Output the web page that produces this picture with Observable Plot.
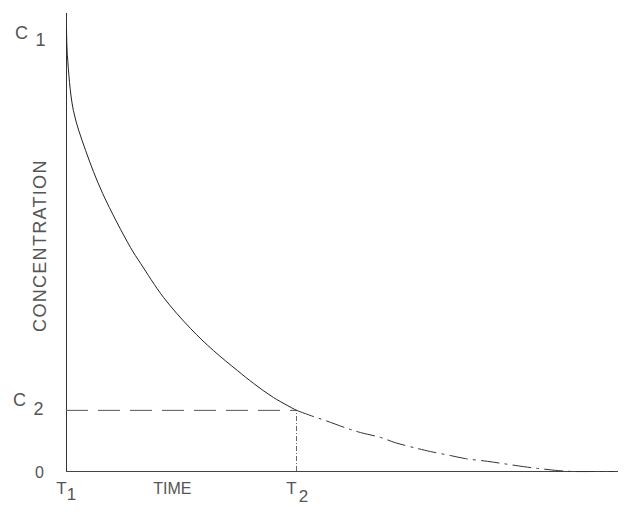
<!DOCTYPE html>
<html>
<head>
<meta charset="utf-8">
<script src="https://cdn.jsdelivr.net/npm/d3@7"></script>
<script src="https://cdn.jsdelivr.net/npm/@observablehq/plot@0.6"></script>
<style>
  html, body { margin: 0; padding: 0; background: #fff; }
  #chart { width: 624px; height: 514px; }
</style>
</head>
<body>
<div id="chart"></div>
<script>
// Curve: time (T1 = 0, T2 = 10) and concentration (C1 = 100)
const time = [0, 0.04, 0.30, 0.83, 1.57, 2.78, 3.22, 4.22, 5.39, 6.39, 7.43, 8.13, 9.0, 10,
  10.74, 11.26, 12.22, 12.78, 13.65, 14.3, 15.26, 15.83, 16.7, 17.35, 18.3, 18.96, 19.87, 20.48, 21.4, 22.04, 22.9, 23.78];
const conc = [100, 93.9, 81.5, 72.5, 62.8, 50.6, 47.0, 39.3, 32.3, 27.3, 22.8, 19.9, 16.7, 13.8,
  12.4, 11.5, 9.7, 8.8, 7.7, 6.5, 5.2, 4.5, 3.6, 2.9, 2.3, 1.8, 1.1, 0.7, 0.2, 0, 0, 0];
const T2 = 10;
const C1 = 100;
const C2 = 13.8;
const yTickValues = [C1, C2, 0];
const yTickLetters = ["C", "C", "0"];
const yTickSubs = ["1", "2", ""];
const xTickValues = [0, T2];
const xTickLetters = ["T", "T"];
const xTickSubs = ["1", "2"];
const xTitle = "TIME";
const yTitle = "CONCENTRATION";

const curve = time.map((t, i) => ({t, c: conc[i]}));
const solid = curve.filter(d => d.t <= T2);
const tail = curve.filter(d => d.t >= T2);

const font = "'Liberation Sans', sans-serif";
const txt = "#555";

const chart = Plot.plot({
  width: 624,
  height: 514,
  marginLeft: 66,
  marginRight: 6,
  marginTop: 13,
  marginBottom: 43,
  x: {domain: [0, 24], axis: null},
  y: {domain: [0, 103.4], axis: null},
  style: {fontFamily: font, background: "#fff"},
  marks: [
    // axes
    Plot.ruleX([0], {y1: 0, y2: 103.4, stroke: "#333", strokeWidth: 1}),
    Plot.ruleY([0], {x1: 0, x2: 24, stroke: "#444", strokeWidth: 1}),
    // reference lines
    Plot.ruleY([C2], {x1: 0, x2: T2, stroke: "#555", strokeWidth: 1, strokeDasharray: "22,10"}),
    Plot.ruleX([T2], {y1: 0, y2: C2, stroke: "#666", strokeWidth: 1, strokeDasharray: "5,2,1,2"}),
    // curve
    Plot.line(solid, {x: "t", y: "c", stroke: "#222", strokeWidth: 1, curve: "catmull-rom"}),
    Plot.line(tail, {x: "t", y: "c", stroke: "#333", strokeWidth: 1, curve: "catmull-rom", strokeDasharray: "18,6,2,6"}),
    // y tick labels
    Plot.text(yTickValues.slice(0, 1), {x: 0, y: d => d, text: [yTickLetters[0]], dx: -45, dy: 5, fontSize: 18, fill: txt}),
    Plot.text(yTickValues.slice(0, 1), {x: 0, y: d => d, text: [yTickSubs[0]], dx: -26, dy: 12, fontSize: 18, fill: txt}),
    Plot.text(yTickValues.slice(1, 2), {x: 0, y: d => d, text: [yTickLetters[1]], dx: -47, dy: -10, fontSize: 18, fill: txt}),
    Plot.text(yTickValues.slice(1, 2), {x: 0, y: d => d, text: [yTickSubs[1]], dx: -28, dy: -1, fontSize: 18, fill: txt}),
    Plot.text(yTickValues.slice(2, 3), {x: 0, y: d => d, text: [yTickLetters[2]], dx: -27, dy: 1, fontSize: 16, fill: txt}),
    // x tick labels
    Plot.text(xTickValues, {x: d => d, y: 0, text: xTickLetters, dx: -5, dy: 17, fontSize: 17, fill: txt}),
    Plot.text(xTickValues.slice(0, 1), {x: d => d, y: 0, text: [xTickSubs[0]], dx: 5, dy: 23, fontSize: 17, fill: txt}),
    Plot.text(xTickValues.slice(1, 2), {x: d => d, y: 0, text: [xTickSubs[1]], dx: 7, dy: 25, fontSize: 17, fill: txt}),
    // titles
    Plot.text([xTitle], {x: 4.6, y: 0, text: d => d, dy: 17, fontSize: 16, fill: txt}),
    Plot.text([yTitle], {x: 0, y: 51, text: d => d, dx: -26, rotate: -90, fontSize: 18, fill: txt})
  ]
});
d3.select(chart).selectAll("text")
  .filter(function() { return this.textContent === yTitle; })
  .style("letter-spacing", "1.3px");
document.getElementById("chart").appendChild(chart);
</script>
</body>
</html>
